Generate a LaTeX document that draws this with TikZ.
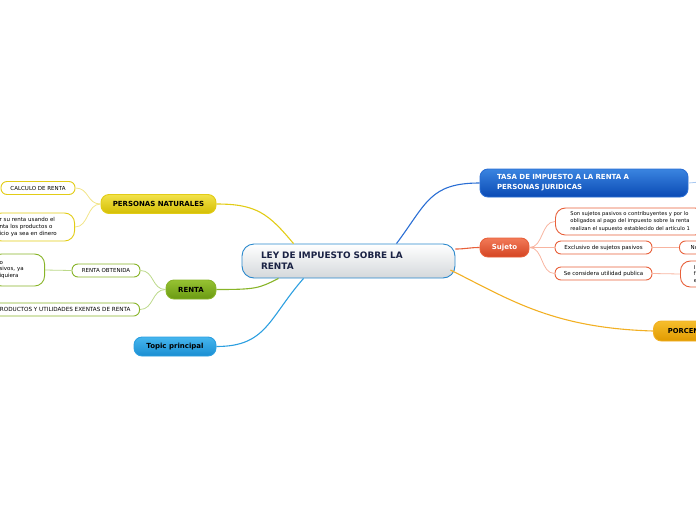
\documentclass[tikz,border=0pt]{standalone}
\usepackage{fontspec}
\setmainfont{DejaVu Sans}
\setsansfont{DejaVu Sans}
\definecolor{yelD}{HTML}{E2CC16}
\definecolor{yelT}{HTML}{F2E24A}
\definecolor{yelB}{HTML}{D4BE04}
\definecolor{yelL}{HTML}{F2E58A}
\definecolor{grnD}{HTML}{88B428}
\definecolor{grnT}{HTML}{96C232}
\definecolor{grnB}{HTML}{6A9A12}
\definecolor{grnL}{HTML}{BCD98A}
\definecolor{bluD}{HTML}{2C9FE0}
\definecolor{bluT}{HTML}{46B6EE}
\definecolor{bluB}{HTML}{1A8ED2}
\definecolor{dbD}{HTML}{2A6ED4}
\definecolor{dbT}{HTML}{3A84E0}
\definecolor{dbB}{HTML}{0A4AB4}
\definecolor{dbL}{HTML}{A8C8F0}
\definecolor{orD}{HTML}{E8603A}
\definecolor{orT}{HTML}{F27A58}
\definecolor{orB}{HTML}{D44422}
\definecolor{orL}{HTML}{F8B4A0}
\definecolor{amD}{HTML}{F2B024}
\definecolor{amT}{HTML}{F6BE2C}
\definecolor{amB}{HTML}{E09A00}
\definecolor{cenD}{HTML}{2A88CC}
\definecolor{cenB}{HTML}{D4D8DB}
\definecolor{navy}{HTML}{1A2244}
\tikzset{
  x=1pt,y=-1pt,
  every node/.style={font=\sffamily, inner sep=0pt},
  topicbox/.style={rounded corners=8pt, draw=#1D, line width=0.9pt, top color=#1T, bottom color=#1B,
     minimum height=19pt, font=\sffamily\bfseries\fontsize{7}{8}\selectfont},
  subbox/.style={rounded corners=6pt, draw=#1D, line width=0.9pt, fill=white,
     minimum height=13pt, inner xsep=7pt, font=\sffamily\fontsize{5.5}{6.6}\selectfont},
  bigbox/.style={rounded corners=10pt, draw=#1D, line width=0.9pt, fill=white,
     inner xsep=8pt, align=left, font=\sffamily\fontsize{5.5}{6.6}\selectfont},
  mainline/.style={draw=#1, line width=1.1pt},
  subline/.style={draw=#1, line width=0.8pt},
}
\begin{document}
\begin{tikzpicture}
\useasboundingbox (0,0) rectangle (696,520);
\clip (0,0) rectangle (696,520);

% central
\node[rounded corners=12pt, draw=cenD, line width=0.9pt, top color=white, bottom color=cenB,
  minimum width=213pt, minimum height=34pt, text width=175pt, align=left, inner xsep=19pt,
  font=\sffamily\bfseries\fontsize{8.9}{11}\selectfont, text=navy] (central) at (348.5,261)
  {LEY DE IMPUESTO SOBRE LA\\RENTA};

% left: personas naturales
\node[topicbox=yel, minimum width=115pt] (pn) at (158.5,204) {PERSONAS NATURALES};
\node[subbox=yel, minimum width=74pt] (calc) at (38,188) {CALCULO DE RENTA};
\node[bigbox=yel, anchor=east, minimum height=28pt, text width=67pt] (pnbig) at (75,227)
  {r su renta usando el\\nta los productos o\\icio ya sea en dinero};

% renta
\node[topicbox=grn, minimum width=50pt] (renta) at (191,289.5) {RENTA};
\node[subbox=grn, minimum width=68pt] (ro) at (106,270.5) {RENTA OBTENIDA};
\node[bigbox=grn, anchor=east, minimum height=32pt, text width=37pt] (robig) at (45,270)
  {o\\sivos, ya\\iquiera};
\node[subbox=grn, anchor=east, inner xsep=9pt, font=\sffamily\fontsize{5.65}{6.6}\selectfont] (prod) at (140,309.5)
  {RODUCTOS Y UTILIDADES EXENTAS DE RENTA};

% topic principal
\node[topicbox=blu, minimum width=82pt] (topic) at (175,346.5) {Topic principal};

% right: tasa
\node[topicbox=db, minimum width=208pt, minimum height=28pt, text width=174pt, align=left,
  inner xsep=17pt, text=white, font=\sffamily\bfseries\fontsize{7}{10}\selectfont]
  (tasa) at (584,183) {TASA DE IMPUESTO A LA RENTA A\\PERSONAS JURIDICAS};
\coordinate (tasaend) at (700,182);

% sujeto
\node[topicbox=or, minimum width=49pt, text=white] (sujeto) at (504.5,247.5) {Sujeto};
\node[bigbox=or, anchor=west, minimum height=27pt, inner xsep=15pt,
  font=\sffamily\fontsize{5.2}{7.4}\selectfont] (son) at (555,221.5)
  {Son sujetos pasivos o contribuyentes y por lo\\obligados al pago del impuesto sobre la renta\\realizan el supuesto establecido del artículo 1};
\node[subbox=or, minimum width=97pt] (excl) at (603.5,247.5) {Exclusivo de sujetos pasivos};
\node[subbox=or, anchor=west, inner xsep=4pt, minimum width=30pt, align=left] (no) at (679,247.5) {No};
\node[subbox=or, minimum width=97pt] (util) at (603.5,273.5) {Se considera utilidad publica};
\node[bigbox=or, anchor=west, minimum height=26pt, inner xsep=4pt, minimum width=30pt,
  font=\sffamily\fontsize{5.3}{6.6}\selectfont] (utilbig) at (680,274) {I\\f\\e};

% porcentaje
\node[topicbox=am, anchor=west, minimum height=20pt, inner xsep=10pt, minimum width=60pt, align=left,
  font=\sffamily\bfseries\fontsize{6.8}{8}\selectfont] (porc) at (653,331) {PORCEN};

% main connectors
\draw[mainline=yelD] ([xshift=-55pt]central.north) .. controls +(-25,-30) and +(40,0) .. (pn.east);
\draw[mainline=grnD] ([xshift=-70pt]central.south) .. controls +(-20,10) and +(40,0) .. (renta.east);
\draw[mainline=bluD] ([xshift=-45pt]central.south) .. controls +(-35,40) and +(50,0) .. (topic.east);
\draw[mainline=dbD] ([xshift=48pt]central.north) .. controls +(30,-40) and +(-50,0) .. (tasa.west);
\draw[mainline=orD] ([yshift=12pt]central.east) .. controls +(10,0) and +(-10,0) .. (sujeto.west);
\draw[mainline=amD] ([xshift=-5pt,yshift=-9pt]central.east) .. controls +(60,30) and +(-100,-3) .. (porc.west);
\draw[subline=dbL] (tasa.east) -- (tasaend);

% sub connectors
\draw[subline=yelL] (pn.west) .. controls +(-14,0) and +(14,0) .. (calc.east);
\draw[subline=yelL] (pn.west) .. controls +(-14,0) and +(14,0) .. (pnbig.east);
\draw[subline=grnL] (renta.west) .. controls +(-14,0) and +(14,0) .. (ro.east);
\draw[subline=grnL] (renta.west) .. controls +(-14,0) and +(14,0) .. (prod.east);
\draw[subline=grnL] (ro.west) -- (robig.east);
\draw[subline=orL] (sujeto.east) .. controls +(14,0) and +(-14,0) .. (son.west);
\draw[subline=orL] (sujeto.east) -- (excl.west);
\draw[subline=orL] (sujeto.east) .. controls +(14,0) and +(-14,0) .. (util.west);
\draw[subline=orL] (excl.east) -- (no.west);
\draw[subline=orL] (util.east) -- (utilbig.west);
\end{tikzpicture}
\end{document}
